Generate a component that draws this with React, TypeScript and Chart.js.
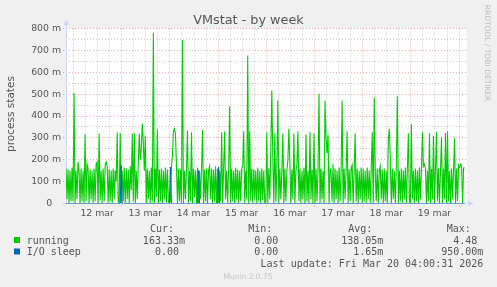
import React, { useEffect, useRef } from "react";
import { Chart, registerables } from "chart.js";

Chart.register(...registerables);

// ---- texts ----
const TITLE = "VMstat - by week";
const Y_TITLE = "process states";
const WATERMARK = "RRDTOOL / TOBI OETIKER";
const LAST_UPDATE = "Last update: Fri Mar 20 04:00:31 2026";
const MUNIN_VERSION = "Munin 2.0.75";

// ---- axes ----
const dayLabels = ["12 mar", "13 mar", "14 mar", "15 mar", "16 mar", "17 mar", "18 mar", "19 mar"];
const yTicks = [0, 100, 200, 300, 400, 500, 600, 700, 800];
// time axis in hours relative to 12 mar 00:00, 30 minute samples
const START_H = -3.5;
const STEP_H = 0.5;
const END_H = 196;

// ---- series: running (milli-processes), one array per day ----
const running11 = [160, 20, 155, 0, 150, 10, 165];
const running12 = [10, 505, 0, 150, 20, 190, 150, 0, 160, 10, 150, 0, 316, 10, 180, 160, 0, 155, 20, 150, 0, 160, 10, 180, 190, 0, 320, 15, 150, 0, 160, 10, 175, 190, 170, 0, 155, 10, 150, 0, 160, 20, 150, 100, 325, 10, 0, 322];
const running13 = [0, 150, 10, 165, 0, 160, 20, 155, 0, 170, 60, 320, 10, 322, 0, 150, 20, 180, 320, 200, 250, 365, 280, 150, 311, 0, 160, 20, 150, 0, 165, 10, 781, 0, 160, 30, 338, 0, 155, 10, 160, 0, 150, 20, 165, 5, 155, 10];
const running14 = [0, 10, 160, 220, 330, 342, 320, 180, 0, 160, 10, 155, 0, 746, 0, 150, 20, 160, 334, 0, 150, 10, 326, 0, 160, 30, 150, 0, 165, 0, 150, 20, 160, 337, 0, 155, 10, 160, 0, 150, 170, 20, 160, 0, 155, 10, 170, 0];
const running15 = [160, 0, 150, 10, 326, 0, 160, 330, 20, 150, 0, 170, 444, 0, 160, 10, 150, 0, 165, 20, 155, 0, 150, 10, 160, 175, 330, 0, 150, 20, 677, 0, 330, 10, 160, 0, 155, 20, 150, 0, 165, 10, 150, 0, 160, 15, 150, 0];
const running16 = [10, 326, 0, 160, 20, 250, 517, 200, 0, 320, 10, 150, 471, 0, 160, 20, 150, 320, 0, 160, 10, 150, 200, 342, 180, 0, 155, 20, 320, 0, 150, 180, 330, 10, 160, 0, 150, 20, 165, 0, 315, 10, 150, 0, 327, 20, 155, 0];
const running17 = [320, 0, 160, 10, 150, 502, 0, 160, 20, 150, 0, 470, 300, 230, 315, 0, 160, 150, 10, 180, 0, 160, 20, 150, 0, 165, 10, 150, 471, 0, 160, 20, 150, 330, 0, 155, 10, 160, 175, 0, 150, 320, 10, 160, 0, 150, 20, 165];
const running18 = [0, 160, 10, 150, 0, 165, 20, 150, 0, 160, 326, 0, 484, 150, 10, 160, 0, 150, 170, 20, 155, 0, 160, 10, 150, 0, 290, 342, 200, 0, 160, 20, 150, 0, 165, 490, 0, 150, 10, 160, 0, 150, 20, 165, 0, 155, 322, 10];
const running19 = [0, 362, 20, 150, 0, 160, 10, 150, 0, 165, 20, 150, 326, 170, 180, 160, 0, 150, 10, 322, 0, 160, 20, 310, 0, 150, 328, 10, 160, 0, 150, 303, 0, 160, 20, 322, 0, 330, 10, 150, 0, 160, 20, 150, 298, 0, 160, 10];
const running20 = [175, 165, 180, 170, 0, 163, 163];

// ---- series: I/O sleep, one array per day ----
const io11 = [0, 0, 0, 0, 0, 0, 0];
const io12 = [0, 0, 0, 0, 0, 0, 0, 0, 0, 0, 0, 0, 0, 0, 0, 0, 0, 0, 0, 0, 0, 0, 0, 0, 0, 0, 0, 0, 0, 0, 0, 0, 0, 0, 0, 0, 0, 0, 0, 0, 0, 0, 0, 0, 0, 0, 0, 0];
const io13 = [174, 0, 0, 0, 0, 0, 0, 0, 0, 0, 0, 0, 0, 0, 0, 0, 0, 0, 0, 0, 0, 0, 0, 0, 0, 0, 0, 0, 0, 0, 0, 0, 0, 0, 0, 0, 0, 0, 0, 0, 0, 0, 0, 0, 0, 0, 0, 0];
const io14 = [0, 166, 0, 0, 0, 0, 0, 0, 0, 0, 0, 0, 0, 0, 0, 0, 0, 0, 0, 0, 0, 0, 0, 0, 0, 0, 0, 0, 0, 151, 0, 0, 0, 0, 0, 0, 0, 0, 0, 0, 0, 0, 0, 0, 0, 0, 0, 0];
const io15 = [0, 166, 0, 0, 0, 0, 0, 0, 0, 0, 0, 0, 0, 0, 0, 0, 0, 0, 0, 0, 0, 0, 0, 0, 0, 0, 0, 0, 0, 0, 0, 0, 0, 0, 0, 0, 0, 0, 0, 0, 0, 0, 0, 0, 0, 0, 0, 0];
const io16 = [0, 0, 0, 0, 0, 0, 0, 0, 0, 0, 0, 0, 0, 0, 0, 0, 0, 0, 0, 0, 0, 0, 0, 0, 0, 0, 0, 0, 0, 0, 0, 0, 0, 0, 0, 0, 0, 0, 0, 0, 0, 0, 0, 0, 0, 0, 0, 0];
const io17 = [0, 0, 0, 0, 0, 0, 0, 0, 0, 0, 0, 0, 0, 0, 0, 0, 0, 0, 0, 0, 0, 0, 0, 0, 0, 0, 0, 0, 0, 0, 0, 0, 0, 0, 0, 0, 0, 0, 0, 0, 0, 0, 0, 0, 0, 0, 0, 0];
const io18 = [0, 0, 0, 0, 0, 0, 0, 0, 0, 0, 0, 0, 0, 0, 0, 0, 0, 0, 0, 0, 0, 0, 0, 0, 0, 0, 0, 0, 0, 0, 0, 0, 0, 0, 0, 0, 0, 0, 0, 0, 0, 0, 0, 0, 0, 0, 0, 0];
const io19 = [0, 0, 0, 0, 0, 0, 0, 0, 0, 0, 0, 0, 0, 0, 0, 0, 0, 0, 0, 0, 0, 0, 0, 0, 0, 0, 0, 0, 0, 0, 0, 0, 0, 0, 0, 0, 0, 0, 0, 0, 0, 0, 0, 0, 0, 0, 0, 0];
const io20 = [0, 0, 0, 0, 0, 0, 0];

// ---- legend ----
const legendHeaders = ["Cur:", "Min:", "Avg:", "Max:"];
const runningStats = ["163.33m", "0.00 ", "138.05m", "4.48 "];
const ioStats = ["0.00 ", "0.00 ", "1.65m", "950.00m"];
const seriesNames = ["running", "I/O sleep"];
const seriesColors = ["#00CC00", "#0066B3"];

const running = [running11, running12, running13, running14, running15, running16, running17, running18, running19, running20].flat();
const ioSleep = [io11, io12, io13, io14, io15, io16, io17, io18, io19, io20].flat();
const times = running.map((_, i) => START_H + i * STEP_H);

const TEXT = "#555555";
const SANS = '"DejaVu Sans"';
const MONO = '"DejaVu Sans Mono"';

const muninPlugin = {
  id: "munin",
  beforeDraw(chart: any) {
    const { ctx, chartArea: ca, width, height } = chart;
    ctx.save();
    ctx.fillStyle = "#F0F0F0";
    ctx.fillRect(0, 0, width, height);
    ctx.fillStyle = "#FFFFFF";
    ctx.fillRect(ca.left, ca.top, ca.right - ca.left, ca.bottom - ca.top);
    ctx.restore();
  },
  beforeDatasetsDraw(chart: any) {
    const { ctx, chartArea: ca } = chart;
    const xs = chart.scales.x;
    const ys = chart.scales.y;
    ctx.save();
    ctx.lineWidth = 1;
    ctx.setLineDash([1, 2]);
    // minor grid
    ctx.strokeStyle = "rgba(140,140,140,0.5)";
    for (let h = 0; h <= END_H; h += 6) {
      if (h % 24 === 0) continue;
      const px = Math.round(xs.getPixelForValue(h)) + 0.5;
      ctx.beginPath();
      ctx.moveTo(px, ca.top);
      ctx.lineTo(px, ca.bottom);
      ctx.stroke();
    }
    for (let v = 50; v <= 800; v += 100) {
      const py = Math.floor(ys.getPixelForValue(v)) + 0.5;
      ctx.beginPath();
      ctx.moveTo(ca.left, py);
      ctx.lineTo(ca.right, py);
      ctx.stroke();
    }
    // major grid
    ctx.strokeStyle = "rgba(225,80,80,0.5)";
    for (let h = 0; h <= END_H; h += 24) {
      const px = Math.round(xs.getPixelForValue(h)) + 0.5;
      ctx.beginPath();
      ctx.moveTo(px, ca.top);
      ctx.lineTo(px, ca.bottom + 3);
      ctx.stroke();
    }
    for (let v = 100; v <= 800; v += 100) {
      const py = Math.floor(ys.getPixelForValue(v)) + 0.5;
      ctx.beginPath();
      ctx.moveTo(ca.left - 3, py);
      ctx.lineTo(ca.right, py);
      ctx.stroke();
    }
    ctx.setLineDash([]);
    // axes
    const ax = Math.floor(ca.left) + 0.5;
    const ay = Math.floor(ca.bottom) + 0.5;
    ctx.strokeStyle = "#CFD6F8";
    ctx.fillStyle = "#CFD6F8";
    ctx.beginPath();
    ctx.moveTo(ax, ay);
    ctx.lineTo(ax, ca.top - 4);
    ctx.moveTo(ca.left - 4, ay);
    ctx.lineTo(ca.right + 1, ay);
    ctx.stroke();
    ctx.beginPath();
    ctx.moveTo(ax - 3, ca.top - 3.5);
    ctx.lineTo(ax + 3, ca.top - 3.5);
    ctx.lineTo(ax, ca.top - 9);
    ctx.closePath();
    ctx.fill();
    ctx.beginPath();
    ctx.moveTo(ca.right + 1.5, ay - 3);
    ctx.lineTo(ca.right + 1.5, ay + 3);
    ctx.lineTo(ca.right + 7, ay);
    ctx.closePath();
    ctx.fill();
    ctx.restore();
  },
  afterDraw(chart: any) {
    const { ctx, width } = chart;
    ctx.save();
    // title
    ctx.fillStyle = TEXT;
    ctx.font = `12.8px ${SANS}`;
    ctx.textAlign = "center";
    ctx.textBaseline = "alphabetic";
    ctx.fillText(TITLE, width / 2, 24);
    // y axis title
    ctx.save();
    ctx.translate(11, 114);
    ctx.rotate(-Math.PI / 2);
    ctx.font = `10.5px ${SANS}`;
    ctx.textBaseline = "middle";
    ctx.fillText(Y_TITLE, 0, 0);
    ctx.restore();
    // watermark
    ctx.save();
    ctx.translate(487, 53);
    ctx.rotate(Math.PI / 2);
    ctx.font = `7.5px ${SANS}`;
    ctx.fillStyle = "#BBBBBB";
    ctx.textBaseline = "middle";
    ctx.fillText(WATERMARK, 0, 0);
    ctx.restore();
    // legend
    ctx.font = `10px ${MONO}`;
    ctx.fillStyle = TEXT;
    ctx.textAlign = "left";
    const headerLeft = [150, 248.3, 348.3, 446.7];
    const valueRight = [185, 284.3, 383.3, 483.3];
    legendHeaders.forEach((h, i) => ctx.fillText(h, headerLeft[i], 232));
    const rows = [runningStats, ioStats];
    const rowBase = [243.5, 255];
    rows.forEach((vals, r) => {
      ctx.fillStyle = seriesColors[r];
      ctx.fillRect(14, rowBase[r] - 6.5, 6, 6);
      ctx.fillStyle = TEXT;
      ctx.textAlign = "left";
      ctx.fillText(seriesNames[r], 26.7, rowBase[r]);
      ctx.textAlign = "right";
      vals.forEach((v, i) => ctx.fillText(v, valueRight[i], rowBase[r]));
    });
    ctx.textAlign = "right";
    ctx.fillText(LAST_UPDATE, 483.3, 266.5);
    ctx.font = `7.5px ${SANS}`;
    ctx.fillStyle = "#C4C4C4";
    ctx.textAlign = "center";
    ctx.fillText(MUNIN_VERSION, 248, 279);
    ctx.restore();
  },
};

export default function App() {
  const ref = useRef<HTMLCanvasElement>(null);
  useEffect(() => {
    document.body.style.margin = "0";
    const canvas = ref.current!;
    const chart = new Chart(canvas, {
      type: "line",
      data: {
        datasets: [
          {
            label: seriesNames[1],
            data: times.map((t, i) => ({ x: t, y: ioSleep[i] })),
            borderColor: seriesColors[1],
            borderWidth: 1,
            pointRadius: 0,
            tension: 0,
            fill: false,
          },
          {
            label: seriesNames[0],
            data: times.map((t, i) => ({ x: t, y: running[i] })),
            borderColor: seriesColors[0],
            borderWidth: 1.1,
            pointRadius: 0,
            tension: 0,
            fill: false,
          },
        ],
      },
      options: {
        responsive: false,
        animation: false,
        devicePixelRatio: 1,
        events: [],
        layout: { padding: { left: 0, top: 28.5, right: 30.4, bottom: 0 } },
        plugins: {
          legend: { display: false },
          title: { display: false },
          tooltip: { enabled: false },
        },
        scales: {
          x: {
            type: "linear",
            min: START_H,
            max: END_H,
            grid: { display: false, drawTicks: false },
            border: { display: false },
            afterBuildTicks: (s: any) => {
              s.ticks = dayLabels.map((_, i) => ({ value: 12 + 24 * i }));
            },
            ticks: {
              autoSkip: false,
              maxRotation: 0,
              minRotation: 0,
              padding: 4,
              color: TEXT,
              font: { family: "DejaVu Sans", size: 9.33 },
              callback: (_v: any, i: number) => dayLabels[i],
            },
            afterFit: (s: any) => {
              s.height = 83.5;
            },
          },
          y: {
            type: "linear",
            min: 0,
            max: 800,
            grid: { display: false, drawTicks: false },
            border: { display: false },
            afterBuildTicks: (s: any) => {
              s.ticks = yTicks.map((v) => ({ value: v }));
            },
            ticks: {
              padding: 5,
              color: TEXT,
              font: { family: "DejaVu Sans", size: 9.33 },
              callback: (v: any) => (v === 0 ? "0   " : `${v} m`),
            },
            afterFit: (s: any) => {
              s.width = 66;
            },
          },
        },
      },
      plugins: [muninPlugin],
    } as any);
    return () => chart.destroy();
  }, []);
  return <canvas ref={ref} width={497} height={287} style={{ display: "block" }} />;
}
